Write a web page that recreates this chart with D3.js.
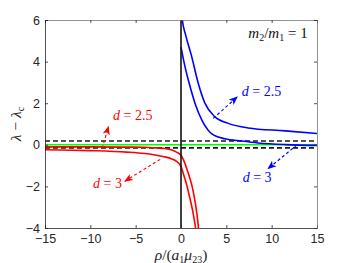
<!DOCTYPE html>
<html>
<head>
<meta charset="utf-8">
<script src="https://cdn.jsdelivr.net/npm/d3@7"></script>
<style>
  body { margin: 0; background: #fff; }
  text { font-family: "Liberation Sans", Arial, sans-serif; }
  .math { font-family: "Liberation Serif", "DejaVu Serif", serif; }
</style>
</head>
<body>
<svg id="chart" width="350" height="263"></svg>
<script>
// data
const xTicks = [-15, -10, -5, 0, 5, 10, 15];
const yTicks = [-4, -2, 0, 2, 4, 6];
const dashedLevels = [0.18, -0.15];
const greenLevel = 0;

const redD25 = [[-15,-0.1],[-10,-0.1],[-6,-0.11],[-4,-0.12],[-3,-0.14],[-2,-0.17],[-1,-0.25],[-0.5,-0.35],[0,-0.5],[0.3,-0.75],[0.6,-1.1],[0.9,-1.5],[1.2,-1.95],[1.5,-2.6],[1.75,-3.3],[1.95,-4.1]];
const redD3 = [[-15,-0.24],[-10,-0.28],[-6,-0.35],[-4,-0.42],[-3,-0.48],[-2,-0.56],[-1,-0.68],[-0.5,-0.8],[0,-1.05],[0.3,-1.45],[0.63,-1.93],[1.0,-2.6],[1.3,-3.2],[1.65,-4.1]];
const blueD25 = [[0.1,6.3],[0.15,6],[0.5,5.3],[1.18,4.24],[1.9,2.96],[2.65,1.99],[3.75,1.34],[5.2,1.03],[7.4,0.81],[11.5,0.67],[15,0.54]];
const blueD3 = [[0,4.7],[0.44,3.76],[1,2.8],[1.54,2.0],[2.3,1.19],[3,0.7],[3.4,0.53],[4.85,0.29],[6.7,0.18],[8.5,0.09],[11.5,0.01],[15,-0.03]];

// annotations: label text position and arrow (data coords)
const annotations = [
  { color: "red",  d: "2.5", label: [-7.5, 1.2], from: [-8.7, -0.17], to: [-8.0, 0.87] },
  { color: "red",  d: "3",   label: [-9.7, -2.1], from: [-2.3, -0.7], to: [-6.2, -1.75] },
  { color: "blue", d: "2.5", label: [6.7, 2.35], from: [3.55, 1.27], to: [6.2, 2.3] },
  { color: "blue", d: "3",   label: [6.8, -1.8], from: [12.8, 0.0], to: [9.6, -1.15] }
];

const svg = d3.select("#chart");
const margin = { top: 20, right: 33, bottom: 35, left: 45 };
const W = 350, H = 263;
const innerW = W - margin.left - margin.right;
const innerH = H - margin.top - margin.bottom;

const x = d3.scaleLinear().domain([-15, 15]).range([0, innerW]);
const y = d3.scaleLinear().domain([-4, 6]).range([innerH, 0]);

const defs = svg.append("defs");
defs.append("clipPath").attr("id", "clip")
  .append("rect").attr("width", innerW).attr("height", innerH);
["red", "blue"].forEach(c => {
  defs.append("marker").attr("id", "arrow-" + c)
    .attr("viewBox", "0 0 10 10").attr("refX", 9).attr("refY", 5)
    .attr("markerWidth", 9).attr("markerHeight", 9)
    .attr("markerUnits", "userSpaceOnUse").attr("orient", "auto")
    .append("path").attr("d", "M0,1 L10,5 L0,9 L2.5,5 Z").attr("fill", c);
});

const g = svg.append("g").attr("transform", `translate(${margin.left},${margin.top})`);
const plot = g.append("g").attr("clip-path", "url(#clip)");

// reference lines
plot.selectAll(".dash").data(dashedLevels).enter().append("line")
  .attr("x1", 0).attr("x2", innerW)
  .attr("y1", d => y(d)).attr("y2", d => y(d))
  .attr("stroke", "#1a1a1a").attr("stroke-width", 1.6)
  .attr("stroke-dasharray", "5,3");
plot.append("line")
  .attr("x1", 0).attr("x2", innerW)
  .attr("y1", y(greenLevel)).attr("y2", y(greenLevel))
  .attr("stroke", "#00ff00").attr("stroke-width", 1.6);

const line = d3.line().x(d => x(d[0])).y(d => y(d[1])).curve(d3.curveMonotoneX);
[[redD25, "red"], [redD3, "red"], [blueD25, "blue"], [blueD3, "blue"]].forEach(([data, c]) => {
  plot.append("path").datum(data).attr("d", line)
    .attr("fill", "none").attr("stroke", c).attr("stroke-width", 1.6);
});

// vertical line at rho = 0
plot.append("line")
  .attr("x1", x(0)).attr("x2", x(0)).attr("y1", 0).attr("y2", innerH)
  .attr("stroke", "#111").attr("stroke-width", 1.6);

// axes (box with inward ticks)
const axisColor = "#262626";
const xAxisB = g.append("g").attr("transform", `translate(0,${innerH})`)
  .call(d3.axisBottom(x).tickValues(xTicks).tickSize(-3).tickPadding(6).tickFormat(d3.format("d")));
const xAxisT = g.append("g")
  .call(d3.axisTop(x).tickValues(xTicks).tickSize(-3).tickFormat(""));
const yAxisL = g.append("g")
  .call(d3.axisLeft(y).tickValues(yTicks).tickSize(-3).tickPadding(5).tickFormat(d3.format("d")));
const yAxisR = g.append("g").attr("transform", `translate(${innerW},0)`)
  .call(d3.axisRight(y).tickValues(yTicks).tickSize(-3).tickFormat(""));
[xAxisB, xAxisT, yAxisL, yAxisR].forEach(a => {
  a.select(".domain").attr("stroke", axisColor).attr("stroke-width", 0.8);
  a.selectAll(".tick line").attr("stroke", axisColor).attr("stroke-width", 0.8);
  a.selectAll(".tick text").attr("fill", axisColor).style("font-size", "12.5px")
    .style("font-family", "'Liberation Sans', Arial, sans-serif");
});
xAxisT.select(".domain").attr("stroke", "#777");
yAxisR.select(".domain").attr("stroke", "#777");

// axis labels
const xl = svg.append("text").attr("class", "math")
  .attr("x", margin.left + innerW / 2).attr("y", 260)
  .attr("text-anchor", "middle").attr("fill", axisColor).style("font-size", "15.5px");
xl.append("tspan").attr("font-style", "italic").text("ρ");
xl.append("tspan").text("/(");
xl.append("tspan").attr("font-style", "italic").text("a");
xl.append("tspan").attr("baseline-shift", "-25%").style("font-size", "10px").text("1");
xl.append("tspan").attr("font-style", "italic").text("μ");
xl.append("tspan").attr("baseline-shift", "-25%").style("font-size", "10px").text("23");
xl.append("tspan").text(")");

const yl = svg.append("text").attr("class", "math")
  .attr("transform", `translate(21,${margin.top + innerH / 2}) rotate(-90)`)
  .attr("text-anchor", "middle").attr("fill", axisColor).style("font-size", "15.5px");
yl.append("tspan").attr("font-style", "italic").text("λ");
yl.append("tspan").text(" − ");
yl.append("tspan").attr("font-style", "italic").text("λ");
yl.append("tspan").attr("baseline-shift", "-25%").style("font-size", "10px").text("c");

// mass ratio label
const mr = svg.append("text").attr("class", "math")
  .attr("x", 278).attr("y", 38).attr("text-anchor", "middle")
  .attr("fill", "#111").style("font-size", "15px");
mr.append("tspan").attr("font-style", "italic").text("m");
mr.append("tspan").attr("baseline-shift", "-25%").style("font-size", "10px").text("2");
mr.append("tspan").text("/");
mr.append("tspan").attr("font-style", "italic").text("m");
mr.append("tspan").attr("baseline-shift", "-25%").style("font-size", "10px").text("1");
mr.append("tspan").text(" = 1");

// annotations
annotations.forEach(a => {
  g.append("line")
    .attr("x1", x(a.from[0])).attr("y1", y(a.from[1]))
    .attr("x2", x(a.to[0])).attr("y2", y(a.to[1]))
    .attr("stroke", a.color).attr("stroke-width", 1.1)
    .attr("stroke-dasharray", "3,2.5")
    .attr("marker-end", `url(#arrow-${a.color})`);
  const t = g.append("text").attr("class", "math")
    .attr("x", x(a.label[0])).attr("y", y(a.label[1]))
    .attr("fill", a.color).style("font-size", "14px");
  t.append("tspan").attr("font-style", "italic").text("d");
  t.append("tspan").text(" = " + a.d);
});
</script>
</body>
</html>
